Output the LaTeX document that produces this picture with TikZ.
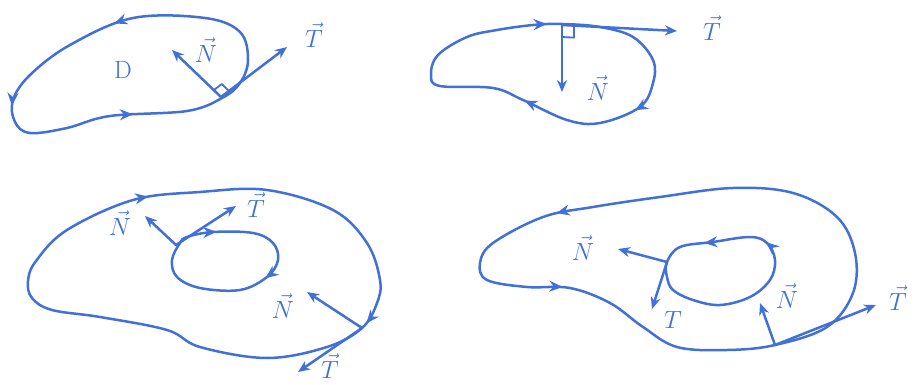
\documentclass[tikz,border=0pt]{standalone}
\usepackage{amsmath}
\usetikzlibrary{arrows.meta,calc,decorations.markings}
\definecolor{ink}{RGB}{64,112,216}

\begin{document}
\begin{tikzpicture}[
  x=1pt, y=-1pt,
  line width=2.5pt, line cap=round, line join=round,
  curve/.style={draw=ink},
  tipat/.style={postaction={decorate, decoration={markings,
      mark=at position #1 with {\arrow[ink]{Stealth[length=13pt,width=11pt]}}}}},
  vec/.style={-{Stealth[length=12pt,width=10pt]}, draw=ink},
  corner/.style={draw=ink, line width=1.8pt},
  lab/.style={text=ink, font=\fontsize{25}{30}\selectfont, inner sep=1pt}
]
\useasboundingbox (0,0) rectangle (915,385);
% --- region D (top left) ---
\draw[curve, tipat=0.32, tipat=0.555, tipat=0.8] plot[smooth cycle, tension=0.6] coordinates
  {(222,98) (240,83) (248,60) (240,32) (205,18) (133,18) (70,45) (30,75) (13,100)
   (15,122) (30,133) (67,128) (110,116) (187,111)};
\coordinate (p1) at (221,97);
\coordinate (n1) at (172,50);
\coordinate (t1) at (287,47);
\draw[vec] (p1) -- (n1);
\draw[vec] (p1) -- (t1);
\coordinate (a1) at ($(p1)!10pt!(n1)$);
\coordinate (b1) at ($(p1)!10pt!(t1)$);
\draw[corner] (a1) -- ($(a1)+(b1)-(p1)$) -- (b1);
\node[lab] (d) at (123,70) {D};
\node[lab] (ln1) at (206,50) {$\vec{N}$};
\node[lab] (lt1) at (314,35) {$\vec{T}$};
% --- top right ---
\draw[curve, tipat=0.23, tipat=0.45, tipat=0.9] plot[smooth cycle, tension=0.6] coordinates
  {(562,24) (600,27) (633,37) (653,60) (653,83) (640,107) (600,123) (567,120) (523,100)
   (493,88) (440,86) (431,75) (438,55) (467,37) (497,30) (533,25)};
\coordinate (p2) at (562,25);
\coordinate (n2) at (562,92);
\coordinate (t2) at (677,31);
\draw[vec] (p2) -- (n2);
\draw[vec] (p2) -- (t2);
\coordinate (a2) at ($(p2)!12pt!(n2)$);
\coordinate (b2) at ($(p2)!12pt!(t2)$);
\draw[corner] (a2) -- ($(a2)+(b2)-(p2)$) -- (b2);
\node[lab] (ln2) at (598,88) {$\vec{N}$};
\node[lab] (lt2) at (712,28) {$\vec{T}$};
% --- bottom left: region with a hole ---
\draw[curve, tipat=0.565, tipat=0.945] plot[smooth cycle, tension=0.6] coordinates
  {(362,328) (327,347) (267,358) (200,347) (167,330) (100,317) (52,310) (32,298) (28,281)
   (36,261) (67,230) (133,200) (200,192) (267,190) (333,210) (367,243) (380,280) (377,303)};
\draw[curve, tipat=0.11, tipat=0.48] plot[smooth cycle, tension=0.6] coordinates
  {(180,243) (187,237) (213,232) (253,233) (273,243) (278,260) (267,277) (240,290)
   (200,288) (177,277) (172,260)};
\coordinate (p3) at (176,245);
\coordinate (n3) at (145,216);
\coordinate (t3) at (236,206);
\draw[vec] (p3) -- (n3);
\draw[vec] (p3) -- (t3);
\node[lab] (ln3) at (120,223) {$\vec{N}$};
\node[lab] (lt3) at (256,205) {$\vec{T}$};
\coordinate (q3) at (362,328);
\coordinate (m3) at (307,292);
\coordinate (s3) at (298,372);
\draw[vec] (q3) -- (m3);
\draw[vec] (q3) -- (s3);
\node[lab] (lm3) at (283,306) {$\vec{N}$};
\node[lab] (ls3) at (330,366) {$\vec{T}$};
% --- bottom right: region with a hole ---
\draw[curve, tipat=0.465, tipat=0.68] plot[smooth cycle, tension=0.6] coordinates
  {(775,345) (827,327) (853,293) (855,253) (837,217) (793,193) (733,188) (660,197)
   (593,207) (543,217) (493,243) (480,263) (487,280) (527,287) (570,288) (610,303)
   (643,327) (677,347) (727,350)};
\draw[curve, tipat=0.57, tipat=0.79] plot[smooth cycle, tension=0.6] coordinates
  {(667,262) (667,277) (673,290) (693,300) (720,305) (750,297) (770,280) (775,260)
   (767,243) (750,237) (713,242) (680,247)};
\coordinate (p4) at (667,262);
\coordinate (n4) at (618,249);
\coordinate (t4) at (652,309);
\draw[vec] (p4) -- (n4);
\draw[vec] (p4) -- (t4);
\node[lab] (ln4) at (583,248) {$\vec{N}$};
\node[lab] (lt4) at (673,320) {$T$};
\coordinate (q4) at (775,345);
\coordinate (m4) at (760,303);
\coordinate (s4) at (876,305);
\draw[vec] (q4) -- (m4);
\draw[vec] (q4) -- (s4);
\node[lab] (lm4) at (787,296) {$\vec{N}$};
\node[lab] (ls4) at (898,298) {$\vec{T}$};
\end{tikzpicture}
\end{document}
